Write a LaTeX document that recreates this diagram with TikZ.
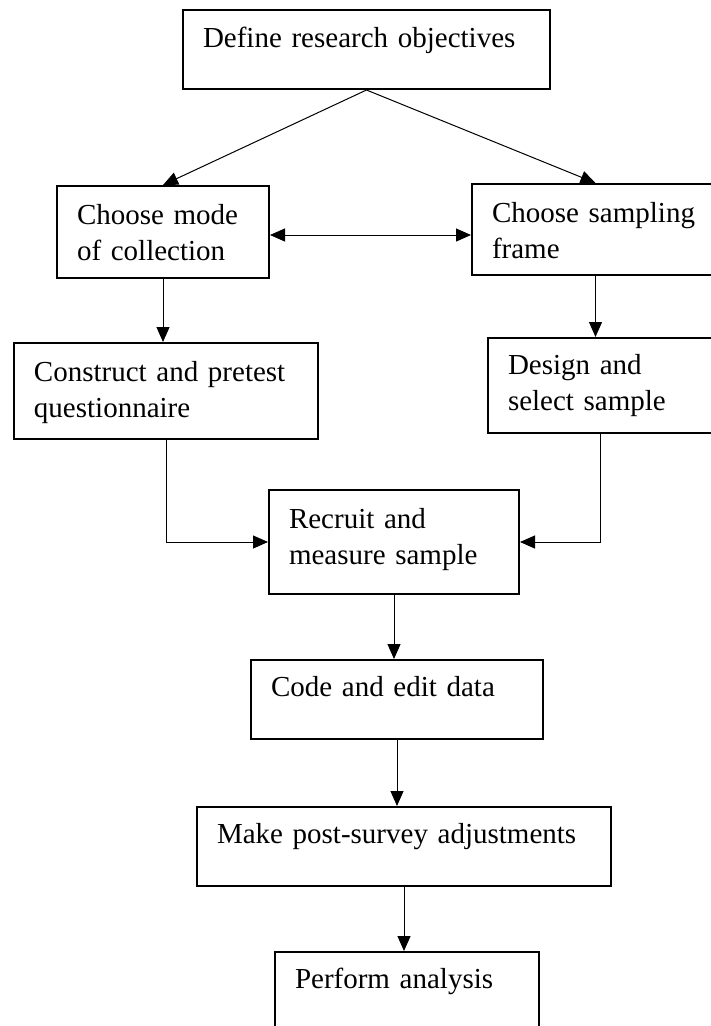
\documentclass[tikz,border=0pt]{standalone}
\usepackage{fontspec}
\setmainfont{Liberation Serif}
\usetikzlibrary{arrows.meta}

\begin{document}
\begin{tikzpicture}[x=1pt, y=-1pt, >={Triangle[length=15pt,width=13pt]},
  stepbox/.style={draw, line width=2pt, anchor=north west, align=left,
    inner xsep=20pt, inner ysep=0pt, font=\fontsize{29}{36}\selectfont},
  link/.style={line width=1pt, ->}]
\useasboundingbox (0,0) rectangle (710,1026);

% Boxes
\node[stepbox, text width=327pt, text height=37pt, text depth=42pt] (objectives) at (182,9) {Define research objectives};
\node[stepbox, text width=172pt, text height=38pt, text depth=54pt] (mode) at (56,185) {Choose mode\\of collection};
\node[stepbox, text width=207pt, text height=38pt, text depth=53pt] (frame) at (471,183) {Choose sampling\\frame};
\node[stepbox, text width=264pt, text height=38pt, text depth=58pt] (questionnaire) at (13,342) {Construct and pretest\\questionnaire};
\node[stepbox, text width=185pt, text height=36pt, text depth=59pt] (sample) at (487,337) {Design and\\select sample};
\node[stepbox, text width=210pt, text height=38pt, text depth=66pt] (recruit) at (268,489) {Recruit and\\measure sample};
\node[stepbox, text width=252pt, text height=36pt, text depth=43pt] (code) at (250,659) {Code and edit data};
\node[stepbox, text width=374pt, text height=36pt, text depth=43pt] (adjust) at (196,806) {Make post-survey adjustments};
\node[stepbox, text width=224pt, text height=36pt, text depth=54pt] (analysis) at (274,951) {Perform analysis};

% Links
\draw[link] (objectives.south) -- (mode.north);
\draw[link] (objectives.south) -- (frame.north);
\draw[link, <->] ([yshift=-3pt]mode.east) -- ([yshift=-3pt]mode.east -| frame.west);
\draw[link] (mode.south) -- (mode.south |- questionnaire.north);
\draw[link] (frame.south) -- (frame.south |- sample.north);
\draw[link] (questionnaire.south) |- (recruit.west);
\draw[link] (sample.south) |- (recruit.east);
\draw[link] (recruit.south) -- (recruit.south |- code.north);
\draw[link] (code.south) -- (code.south |- adjust.north);
\draw[link] (adjust.south) -- (adjust.south |- analysis.north);
\end{tikzpicture}
\end{document}
